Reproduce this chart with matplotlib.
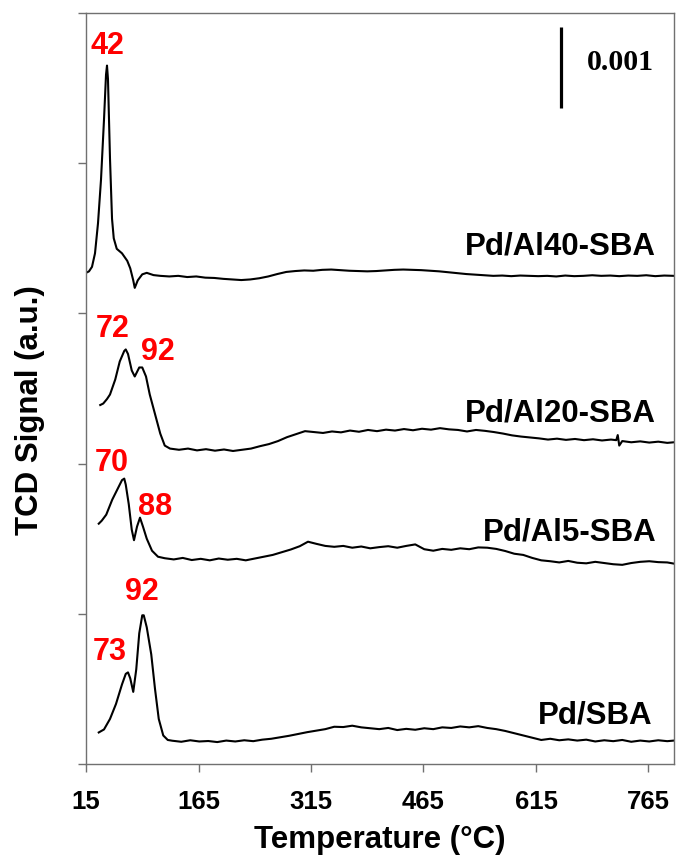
import matplotlib
matplotlib.use("Agg")
import matplotlib.pyplot as plt

# =========================
# DATA (stacked offsets included)
# =========================
temp_al40 = [15, 19, 23, 27, 31, 35, 39, 41.7, 43, 44.3, 47, 49.7, 52, 56, 63, 70, 74, 78, 80, 84,
             90, 96, 105, 114, 126, 138, 150, 162, 174, 186, 198, 210, 222, 234, 246, 258, 270,
             282, 294, 306, 318, 330, 342, 354, 366, 378, 390, 402, 414, 426, 438, 450, 462, 474,
             486, 498, 510, 522, 534, 546, 558, 570, 582, 594, 606, 618, 630, 642, 654, 666, 678,
             690, 702, 714, 726, 738, 750, 762, 774, 786, 799]
sig_al40 = [3.27, 3.28, 3.31, 3.40, 3.60, 3.89, 4.29, 4.59, 4.65, 4.56, 4.03, 3.63, 3.50, 3.43, 3.40,
            3.35, 3.30, 3.22, 3.17, 3.22, 3.26, 3.27, 3.255, 3.25, 3.246, 3.250, 3.242, 3.246,
            3.238, 3.236, 3.230, 3.226, 3.222, 3.226, 3.234, 3.246, 3.262, 3.276, 3.282, 3.286,
            3.284, 3.290, 3.292, 3.288, 3.284, 3.282, 3.280, 3.282, 3.286, 3.290, 3.292, 3.290,
            3.288, 3.284, 3.280, 3.274, 3.268, 3.262, 3.258, 3.254, 3.250, 3.252, 3.248, 3.252,
            3.250, 3.248, 3.250, 3.246, 3.252, 3.248, 3.250, 3.254, 3.250, 3.252, 3.248, 3.252,
            3.250, 3.254, 3.248, 3.252, 3.250]

temp_al20 = [34, 38, 43, 47, 54, 60, 66, 68, 71, 76, 80, 86, 90, 95, 100, 107, 114, 120, 127, 139,
             151, 163, 175, 187, 199, 211, 223, 235, 247, 259, 271, 283, 295, 307, 319, 331, 343,
             355, 367, 379, 391, 403, 415, 427, 439, 451, 463, 475, 487, 499, 511, 523, 535, 547,
             559, 571, 583, 595, 607, 619, 631, 643, 655, 667, 679, 691, 703, 715, 722, 724, 726,
             730, 742, 754, 766, 778, 790, 799]
sig_al20 = [2.39, 2.40, 2.43, 2.46, 2.56, 2.68, 2.75, 2.76, 2.73, 2.62, 2.58, 2.64, 2.64, 2.58, 2.46,
            2.33, 2.20, 2.12, 2.10, 2.092, 2.100, 2.088, 2.096, 2.086, 2.094, 2.084, 2.092, 2.100,
            2.116, 2.130, 2.150, 2.176, 2.196, 2.216, 2.210, 2.204, 2.214, 2.208, 2.220, 2.212,
            2.224, 2.216, 2.226, 2.220, 2.230, 2.222, 2.232, 2.226, 2.236, 2.228, 2.224, 2.214,
            2.224, 2.218, 2.210, 2.200, 2.188, 2.180, 2.174, 2.168, 2.160, 2.166, 2.158, 2.164,
            2.156, 2.162, 2.154, 2.160, 2.156, 2.190, 2.120, 2.150, 2.142, 2.148, 2.140, 2.146,
            2.138, 2.142]

temp_al5 = [32, 36, 42, 50, 58, 63, 66, 68, 72, 76, 79, 83, 87, 91, 96, 103, 111, 120, 132, 144,
            156, 168, 180, 192, 204, 216, 228, 240, 252, 264, 276, 288, 300, 311, 322, 334, 346,
            358, 370, 382, 394, 406, 418, 430, 442, 454, 466, 478, 490, 502, 514, 526, 538, 550,
            562, 574, 586, 598, 610, 622, 634, 646, 658, 670, 682, 694, 706, 718, 730, 742, 754,
            766, 778, 790, 799]
sig_al5 = [1.60, 1.62, 1.66, 1.76, 1.84, 1.89, 1.90, 1.86, 1.73, 1.56, 1.49, 1.58, 1.64, 1.58, 1.50,
           1.42, 1.38, 1.37, 1.362, 1.372, 1.358, 1.366, 1.356, 1.368, 1.360, 1.366, 1.356, 1.368,
           1.380, 1.392, 1.410, 1.428, 1.450, 1.480, 1.466, 1.452, 1.446, 1.452, 1.440, 1.448,
           1.436, 1.444, 1.450, 1.440, 1.452, 1.462, 1.430, 1.420, 1.432, 1.426, 1.436, 1.430,
           1.442, 1.440, 1.432, 1.418, 1.400, 1.392, 1.372, 1.356, 1.350, 1.342, 1.352, 1.340,
           1.336, 1.346, 1.338, 1.330, 1.326, 1.338, 1.346, 1.350, 1.344, 1.342, 1.334]

temp_sba = [32, 39, 47, 55, 63, 68, 71, 74, 78, 82, 86, 90, 92, 96, 102, 107, 112, 118, 124, 130,
            142, 154, 166, 178, 190, 202, 214, 226, 238, 250, 262, 274, 286, 298, 310, 322, 334,
            346, 358, 370, 382, 394, 406, 418, 430, 442, 454, 466, 478, 490, 502, 514, 526, 538,
            550, 562, 574, 586, 598, 610, 622, 634, 646, 658, 670, 682, 694, 706, 718, 730, 742,
            754, 766, 778, 790, 799]
sig_sba = [0.21, 0.23, 0.30, 0.40, 0.53, 0.60, 0.61, 0.57, 0.48, 0.63, 0.87, 0.99, 0.99, 0.91, 0.73,
           0.50, 0.30, 0.19, 0.16, 0.155, 0.148, 0.158, 0.150, 0.153, 0.146, 0.156, 0.150, 0.158,
           0.152, 0.162, 0.168, 0.178, 0.188, 0.200, 0.212, 0.222, 0.232, 0.248, 0.246, 0.255,
           0.244, 0.238, 0.232, 0.240, 0.226, 0.234, 0.228, 0.238, 0.232, 0.244, 0.240, 0.250,
           0.244, 0.252, 0.240, 0.232, 0.220, 0.205, 0.190, 0.175, 0.160, 0.168, 0.158, 0.164,
           0.156, 0.162, 0.150, 0.158, 0.152, 0.160, 0.148, 0.156, 0.150, 0.158, 0.152, 0.156]

curves = [
    (temp_al40, sig_al40, "Pd/Al40-SBA", (775, 3.45)),
    (temp_al20, sig_al20, "Pd/Al20-SBA", (775, 2.34)),
    (temp_al5, sig_al5, "Pd/Al5-SBA", (776, 1.55)),
    (temp_sba, sig_sba, "Pd/SBA", (771, 0.33)),
]

peak_labels = ["42", "72", "92", "70", "88", "92", "73"]
peak_pos = [(44, 4.79), (50, 2.90), (111, 2.75), (50, 2.01), (107, 1.72), (90, 1.15), (46, 0.75)]

x_ticks = [15, 165, 315, 465, 615, 765]

# =========================
# PLOT
# =========================
plt.rcParams["font.family"] = ["Liberation Sans", "DejaVu Sans"]
plt.rcParams["font.weight"] = "bold"

fig = plt.figure(figsize=(6.78, 8.62), dpi=100)
ax = fig.add_axes([86 / 678, 1 - 765 / 862, 588 / 678, 751 / 862])

for t, s, name, (lx, ly) in curves:
    ax.plot(t, s, color="black", lw=1.5)
    ax.text(lx, ly, name, ha="right", va="center", fontsize=22.5, fontweight="bold")

for lab, (px, py) in zip(peak_labels, peak_pos):
    ax.text(px, py, lab, ha="center", va="center", fontsize=22, fontweight="bold", color="red")

# scale bar
ax.plot([648, 648], [4.37, 4.91], color="black", lw=2.3, solid_capstyle="butt")
ax.text(683, 4.675, "0.001", ha="left", va="center", fontsize=21.5, fontweight="bold",
        family="Liberation Serif")

ax.set_xlim(15, 799)
ax.set_ylim(0, 5)
ax.set_xticks(x_ticks)
ax.set_yticks([0, 1, 2, 3, 4, 5])
ax.set_yticklabels([])
ax.tick_params(axis="both", direction="out", length=6, width=1, color="#707070",
               labelsize=18.5, pad=12)
for lab in ax.get_xticklabels():
    lab.set_fontweight("bold")
for sp in ax.spines.values():
    sp.set_color("#707070")
    sp.set_linewidth(1)

ax.set_xlabel("Temperature (°C)", fontsize=22.5, fontweight="bold", labelpad=8)
fig.text(30 / 678, 1 - 410 / 862, "TCD Signal (a.u.)", rotation=90, ha="center", va="center",
         fontsize=22.5, fontweight="bold")

fig.savefig("out.png", dpi=100)
